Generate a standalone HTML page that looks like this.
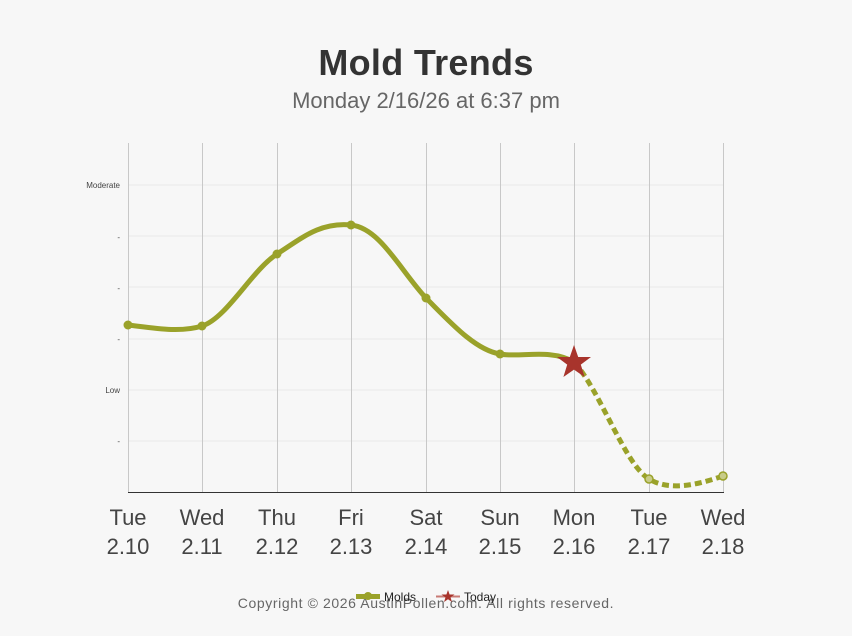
<!DOCTYPE html>
<html><head><meta charset="utf-8"><style>
body{margin:0;background:#f7f7f7;font-family:"Liberation Sans",sans-serif;}
</style></head><body>
<svg width="852" height="636" xmlns="http://www.w3.org/2000/svg" style="display:block">
<rect width="852" height="636" fill="#f7f7f7"/>
<text x="426" y="75" text-anchor="middle" font-size="36" font-weight="bold" fill="#333" letter-spacing="0.3">Mold Trends</text>
<text x="426" y="108" text-anchor="middle" font-size="22" fill="#666">Monday 2/16/26 at 6:37 pm</text>
<g stroke="#e8e8e8" stroke-width="1">
<line x1="128" x2="723" y1="185" y2="185"/><line x1="128" x2="723" y1="236" y2="236"/>
<line x1="128" x2="723" y1="287" y2="287"/><line x1="128" x2="723" y1="339" y2="339"/>
<line x1="128" x2="723" y1="390" y2="390"/><line x1="128" x2="723" y1="441" y2="441"/>
</g>
<g stroke="#c8c8c8" stroke-width="1">
<line x1="128.5" x2="128.5" y1="143" y2="492"/><line x1="202.5" x2="202.5" y1="143" y2="492"/>
<line x1="277.5" x2="277.5" y1="143" y2="492"/><line x1="351.5" x2="351.5" y1="143" y2="492"/>
<line x1="426.5" x2="426.5" y1="143" y2="492"/><line x1="500.5" x2="500.5" y1="143" y2="492"/>
<line x1="574.5" x2="574.5" y1="143" y2="492"/><line x1="649.5" x2="649.5" y1="143" y2="492"/>
<line x1="723.5" x2="723.5" y1="143" y2="492"/>
</g>
<line x1="128" x2="724" y1="492.5" y2="492.5" stroke="#333"/>
<g font-size="8" fill="#444" text-anchor="end">
<text x="120" y="188">Moderate</text><text x="120" y="240">-</text><text x="120" y="291">-</text>
<text x="120" y="342">-</text><text x="120" y="393">Low</text><text x="120" y="444">-</text>
</g>
<g font-size="22" fill="#444" text-anchor="middle">
<text x="128" y="525">Tue</text><text x="128" y="554">2.10</text>
<text x="202" y="525">Wed</text><text x="202" y="554">2.11</text>
<text x="277" y="525">Thu</text><text x="277" y="554">2.12</text>
<text x="351" y="525">Fri</text><text x="351" y="554">2.13</text>
<text x="426" y="525">Sat</text><text x="426" y="554">2.14</text>
<text x="500" y="525">Sun</text><text x="500" y="554">2.15</text>
<text x="574" y="525">Mon</text><text x="574" y="554">2.16</text>
<text x="649" y="525">Tue</text><text x="649" y="554">2.17</text>
<text x="723" y="525">Wed</text><text x="723" y="554">2.18</text>
</g>
<path d="M128,325 C153,328 180,333 202,326 C227,318 252,270 277,254 C302,238 320,222 351,225 C380,228 400,270 426,298 C450,322 475,350 500,354 C520,358 550,348 574,362" fill="none" stroke="#9aa22a" stroke-width="5" stroke-linecap="round"/>
<path d="M574,362 C600,390 625,465 649,479 C670,492 700,484 723,476" fill="none" stroke="#9aa22a" stroke-width="5" stroke-dasharray="7,4"/>
<g fill="#9aa22a">
<circle cx="128" cy="325" r="4.5"/><circle cx="202" cy="326" r="4.5"/><circle cx="277" cy="254" r="4.5"/>
<circle cx="351" cy="225" r="4.5"/><circle cx="426" cy="298" r="4.5"/><circle cx="500" cy="354" r="4.5"/>
</g>
<circle cx="649" cy="479" r="4" fill="#c8cc88" stroke="#9aa22a" stroke-width="1.5"/>
<circle cx="723" cy="476" r="4" fill="#c8cc88" stroke="#9aa22a" stroke-width="1.5"/>
<polygon points="574,345 578.2,357 591,357 580.8,364.6 584.6,377 574,369.6 563.4,377 567.2,364.6 557,357 569.8,357" fill="#a8342c"/>
<text x="426" y="608" text-anchor="middle" font-size="14" fill="#666" letter-spacing="0.6">Copyright © 2026 AustinPollen.com.  All rights reserved.</text>
<rect x="356" y="594" width="24" height="5" fill="#9aa22a"/><circle cx="368" cy="596" r="4" fill="#9aa22a"/>
<text x="384" y="601" font-size="12" fill="#222">Molds</text>
<line x1="436" x2="460" y1="596.5" y2="596.5" stroke="#c87a74" stroke-width="2"/>
<polygon points="448,590 449.6,594.5 454.5,594.5 450.5,597.4 452,602 448,599.2 444,602 445.5,597.4 441.5,594.5 446.4,594.5" fill="#a8342c"/>
<text x="464" y="601" font-size="12" fill="#222">Today</text>
</svg>
</body></html>
